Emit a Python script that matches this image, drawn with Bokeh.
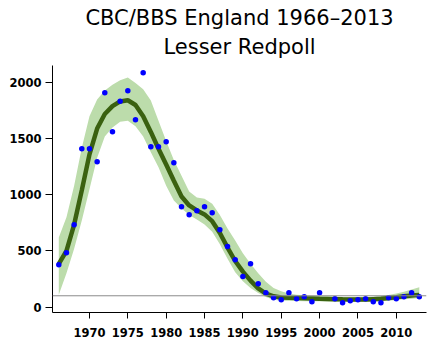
from bokeh.plotting import figure
from bokeh.models import Span, Title, Range1d, FixedTicker
from bokeh.embed import file_html
from bokeh.resources import INLINE

# Survey years with observed index values (2001 missing)
point_years = [1966, 1967, 1968, 1969, 1970, 1971, 1972, 1973, 1974, 1975,
               1976, 1977, 1978, 1979, 1980, 1981, 1982, 1983, 1984, 1985,
               1986, 1987, 1988, 1989, 1990, 1991, 1992, 1993, 1994, 1995,
               1996, 1997, 1998, 1999, 2000, 2002, 2003, 2004, 2005, 2006,
               2007, 2008, 2009, 2010, 2011, 2012, 2013]
point_values = [376, 483, 733, 1410, 1410, 1294, 1909, 1561, 1834, 1927,
                1668, 2087, 1428, 1428, 1472, 1285, 893, 822, 857, 893,
                840, 688, 539, 420, 272, 385, 207, 127, 82, 64,
                127, 73, 91, 46, 127, 73, 37, 55, 64, 73,
                46, 37, 82, 73, 91, 127, 91]

# Smoothed trend with confidence band
trend_years = list(range(1966, 2014))
trend = [385, 500, 735, 1040, 1360, 1590, 1720, 1790, 1832, 1842,
         1800, 1700, 1560, 1410, 1270, 1125, 985, 905, 860, 825,
         765, 660, 530, 410, 315, 235, 165, 120, 95, 85,
         82, 80, 77, 75, 73, 72, 70, 68, 67, 67,
         67, 70, 73, 80, 87, 95, 102, 108]
upper = [620, 800, 1080, 1420, 1700, 1850, 1930, 1980, 2020, 2045,
         1995, 1940, 1840, 1660, 1480, 1310, 1170, 1030, 975, 965,
         920, 820, 700, 593, 480, 385, 300, 225, 170, 140,
         120, 110, 105, 100, 98, 96, 93, 90, 88, 88,
         88, 92, 98, 108, 120, 135, 155, 175]
lower = [110, 300, 520, 770, 1050, 1330, 1520, 1600, 1650, 1660,
         1610, 1520, 1380, 1246, 1080, 950, 880, 820, 780, 735,
         670, 560, 430, 310, 230, 170, 125, 90, 65, 55,
         55, 53, 52, 52, 51, 50, 49, 47, 46, 46,
         47, 49, 52, 56, 62, 68, 74, 80]

x_ticks = [1970, 1975, 1980, 1985, 1990, 1995, 2000, 2005, 2010]
y_ticks = [0, 500, 1000, 1500, 2000]
baseline = 100

p = figure(width=433, height=353, output_backend="svg", toolbar_location=None,
           x_range=Range1d(1965.18, 2013.94), y_range=Range1d(-49, 2152),
           min_border_left=52, min_border_right=7, min_border_bottom=41,
           min_border_top=65)
p.title = None
p.add_layout(Title(text="Lesser Redpoll", align="center", text_font="DejaVu Sans",
                   text_font_size="21px", text_font_style="normal",
                   text_color="black", standoff=13), "above")
p.add_layout(Title(text="CBC/BBS England 1966\u20132013", align="center",
                   text_font="DejaVu Sans", text_font_size="21px",
                   text_font_style="normal", text_color="black", standoff=-6), "above")

p.varea(x=trend_years, y1=lower, y2=upper, fill_color="#bcdcab", fill_alpha=1.0)
p.add_layout(Span(location=baseline, dimension="width", line_color="#8c8c8c", line_width=1))
p.line(trend_years, trend, line_color="#3a6110", line_width=4.5)
p.scatter(point_years, point_values, size=5.5, fill_color="#0000ff", line_color=None)

p.grid.visible = False
p.outline_line_color = None
p.background_fill_color = "white"

for ax in (p.xaxis[0], p.yaxis[0]):
    ax.axis_line_color = "black"
    ax.axis_line_width = 1
    ax.major_tick_line_color = "black"
    ax.minor_tick_line_color = None
    ax.major_tick_out = 7
    ax.major_tick_in = 0
    ax.major_label_text_font = "DejaVu Sans"
    ax.major_label_text_font_style = "bold"
    ax.major_label_text_font_size = "11.5px"
    ax.major_label_text_color = "black"

p.xaxis[0].ticker = FixedTicker(ticks=x_ticks)
p.yaxis[0].ticker = FixedTicker(ticks=y_ticks)
p.xaxis[0].major_tick_out = 6
p.xaxis[0].major_label_standoff = 9
p.yaxis[0].major_label_standoff = 4

open("out.html", "w").write(file_html(p, INLINE))
